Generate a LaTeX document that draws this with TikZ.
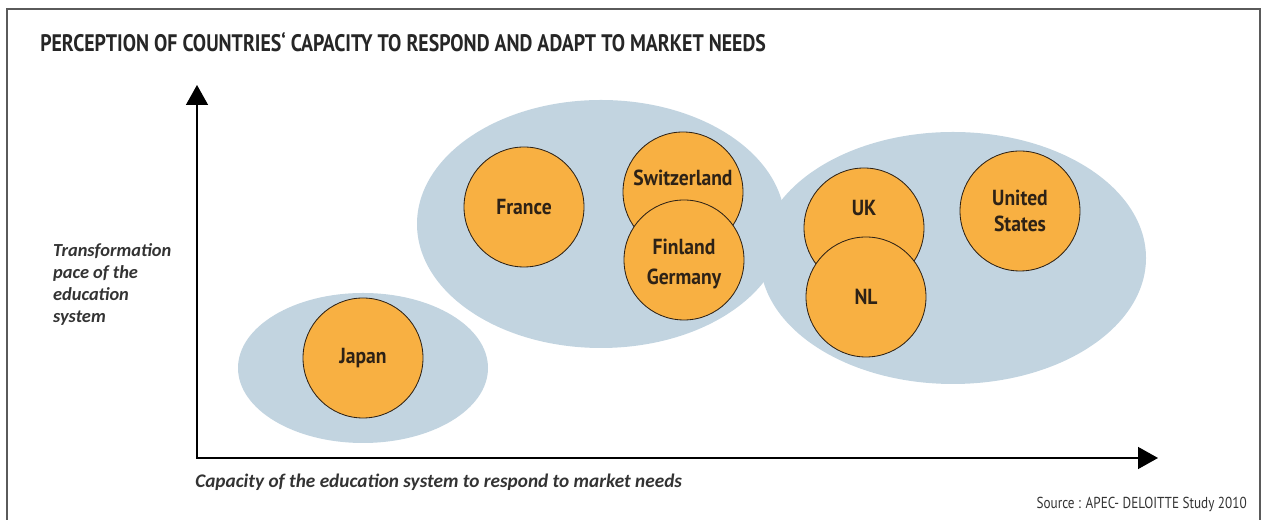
\documentclass[tikz,border=0pt]{standalone}
\usepackage{fontspec}
\usepackage{xcolor}
\usetikzlibrary{arrows.meta,shapes.geometric}
\setmainfont{PT Sans}
\newfontfamily\condfont[FakeStretch=0.83]{PT Sans}
\newfontfamily\circlefont[FakeStretch=0.9]{PT Sans}
\newfontfamily\labelfont{Carlito}

\definecolor{clusterblue}{HTML}{C2D4E0}
\definecolor{countryorange}{HTML}{F8B042}
\definecolor{inkbrown}{HTML}{2E2216}
\definecolor{framegray}{HTML}{5A5A5A}

\tikzset{
  country/.style={circle, draw=inkbrown, line width=0.6pt, fill=countryorange,
    minimum size=3cm, inner sep=0pt, align=center, text=inkbrown,
    font=\circlefont\bfseries\fontsize{15.5}{18}\selectfont},
  cluster/.style={fill=clusterblue},
  axis/.style={line width=1pt, -{Triangle[length=0.5cm,width=0.55cm]}},
  axislabel/.style={text=black!80, inner sep=0pt}
}

\begin{document}
\begin{tikzpicture}
    \useasboundingbox (0,0) rectangle (31.6,13);

    % frame
    \draw[framegray, line width=1.3pt] (0.175,0) -- (0.175,12.775) -- (31.5,12.775) -- (31.5,0);

    \node[anchor=west, inner sep=0pt, font=\condfont\bfseries\fontsize{17}{20}\selectfont, text=black!85] (title)
      at (1,11.95) {PERCEPTION OF COUNTRIES‘ CAPACITY TO RESPOND AND ADAPT TO MARKET NEEDS};

    % clusters
    \fill[cluster] (9.075,3.8) ellipse [x radius=3.125, y radius=1.875];
    \fill[cluster] (15.025,7.4) ellipse [x radius=4.6, y radius=3.1];
    \fill[cluster] (23.825,6.55) ellipse [x radius=4.825, y radius=3.15];

    % countries
    \node[country] (japan) at (9.075,4.05) {Japan};
    \node[country] (france) at (13.1,7.825) {France};
    \node[country, label={[country, draw=none, fill=none, minimum size=0pt, shift={(0,0.35)}]center:Switzerland}] (switzerland) at (17.075,8.2) {};
    \node[country, label={[country, draw=none, fill=none, minimum size=0pt, shift={(0,-0.1)}]center:Finland\\[3pt]Germany}] (finland) at (17.1,6.5) {};
    \node[country, label={[country, draw=none, fill=none, minimum size=0pt, shift={(0,0.5)}]center:UK}] (uk) at (21.6,7.3) {};
    \node[country] (nl) at (21.65,5.575) {NL};
    \node[country] (us) at (25.5,7.725) {United\\States};

    % axes
    \coordinate (origin) at (4.925,1.55);
    \coordinate (ytip) at (4.925,10.875);
    \coordinate (xtip) at (28.95,1.55);
    \draw[axis] ([yshift=-0.5pt]origin) -- (ytip);
    \draw[axis] ([xshift=-0.5pt]origin) -- (xtip);

    \node[axislabel, anchor=north west, align=left, font=\labelfont\bfseries\itshape\fontsize{13.1}{15.6}\selectfont] (ylabel) at (1.32,6.92)
      {Transformation\\pace of the\\education\\system};
    \node[axislabel, anchor=west, font=\labelfont\bfseries\itshape\fontsize{13.7}{16}\selectfont] (xlabel) at (4.875,0.95)
      {Capacity of the education system to respond to market needs};

    \node[anchor=east, inner sep=0pt, font=\condfont\fontsize{11.3}{13}\selectfont, text=black!80] (source)
      at (31.175,0.38) {Source : APEC- DELOITTE Study 2010};
\end{tikzpicture}
\end{document}
